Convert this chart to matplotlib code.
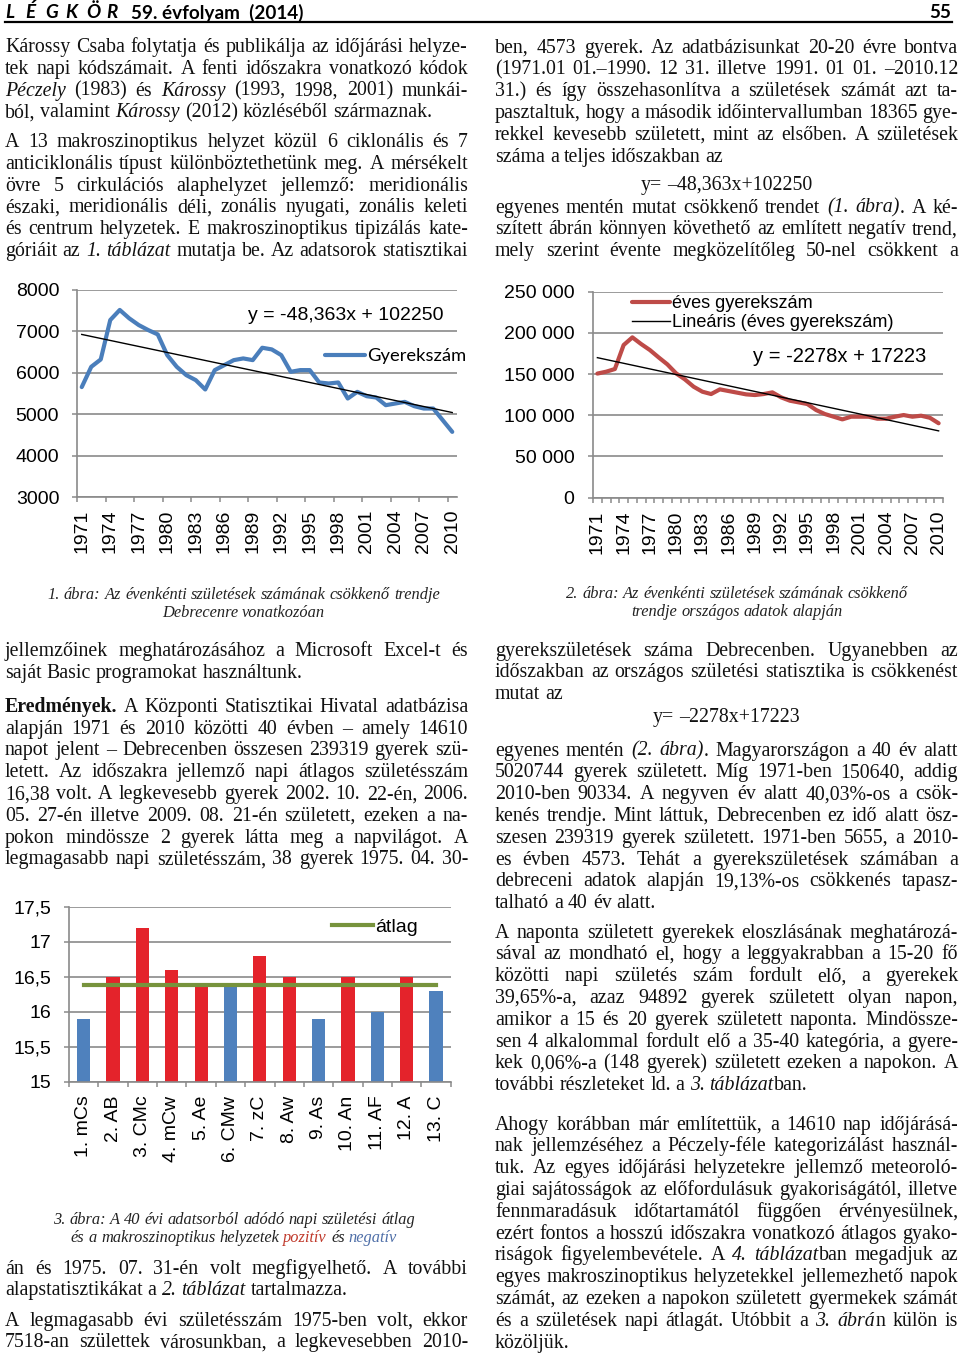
import numpy as np
import matplotlib
matplotlib.use('Agg')
import matplotlib.pyplot as plt
from matplotlib.font_manager import FontProperties
from matplotlib.transforms import IdentityTransform
from matplotlib.lines import Line2D
from matplotlib.ticker import FuncFormatter

# ---------------- data ----------------
years = list(range(1971, 2011))
debrecen_births = [5655, 6145, 6323, 7274, 7518, 7315, 7153, 7032, 6927, 6427,
                   6145, 5944, 5823, 5597, 6065, 6185, 6306, 6347, 6306, 6605,
                   6565, 6427, 6024, 6065, 6065, 5766, 5742, 5766, 5379, 5540,
                   5435, 5403, 5218, 5258, 5298, 5194, 5137, 5137, 4855, 4573]
trend1_coef = (-48.363, 102250)          # y = a*year + b
national_births = [150640, 152900, 156150, 185270, 194570, 186490, 179210, 170300, 161800, 150890,
                   143600, 134700, 128640, 125800, 131470, 129450, 127430, 125400, 124600, 125800,
                   127830, 121760, 117720, 115700, 113670, 106390, 101530, 98300, 95060, 98300,
                   98300, 98300, 95870, 95870, 98300, 100320, 98300, 99500, 97000, 90334]
trend2_coef = (-2278, 172230)            # y = a*index + b, index = 1..40
situations = ['1. mCs', '2. AB', '3. CMc', '4. mCw', '5. Ae', '6. CMw', '7. zC',
              '8. Aw', '9. As', '10. An', '11. AF', '12. A', '13. C']
daily_mean = [15.9, 16.5, 17.2, 16.6, 16.4, 16.37, 16.8, 16.5, 15.9, 16.5, 16.0, 16.5, 16.3]
overall_mean = 16.38
eq1_label = 'y = -48,363x + 102250'
eq2_label = 'y = -2278x + 17223'

# ---------------- page setup ----------------
W, H = 960, 1357
fig = plt.figure(figsize=(W / 100, H / 100), dpi=100)
fig.patch.set_facecolor('white')
renderer = fig.canvas.get_renderer()
IDT = IdentityTransform()
SERIF = 'Liberation Serif'
SANS = 'Liberation Sans'
plt.rcParams['font.family'] = SANS

RED_T = '#c0392b'
BLUE_T = '#4f6fa8'


def fprop(size, italic=False, bold=False, family=SERIF):
    return FontProperties(family=family, style='italic' if italic else 'normal',
                          weight='bold' if bold else 'normal', size=size)


def measure(s, prop):
    w, h, d = renderer.get_text_width_height_descent(s, prop, ismath=False)
    return w


def parse_words(markup, base_italic=False):
    st = {'i': base_italic, 'b': False, 'c': 'black'}
    words, cur, buf = [], [], []

    def flush():
        if buf:
            cur.append((''.join(buf), st['i'], st['b'], st['c']))
            buf.clear()

    for ch in markup:
        if ch == '*':
            flush(); st['i'] = not st['i']
        elif ch == '#':
            flush(); st['b'] = not st['b']
        elif ch == '^':
            flush(); st['c'] = RED_T if st['c'] == 'black' else 'black'
        elif ch == '~':
            flush(); st['c'] = BLUE_T if st['c'] == 'black' else 'black'
        elif ch == ' ':
            flush()
            if cur:
                words.append(list(cur)); cur.clear()
        else:
            buf.append(ch)
    flush()
    if cur:
        words.append(list(cur))
    return words


def draw_line(markup, x0, x1, yc, size, align='j', base_italic=False, color='#111111'):
    words = parse_words(markup, base_italic)
    widths = []
    for w in words:
        widths.append(sum(measure(t, fprop(size, i, b)) for t, i, b, c in w))
    space = measure('a a', fprop(size)) - measure('aa', fprop(size))
    total = sum(widths)
    n = len(words)
    if align == 'j' and n > 1:
        gap = (x1 - x0 - total) / (n - 1)
        x = x0
    elif align == 'c':
        gap = space
        x = (x0 + x1) / 2 - (total + gap * (n - 1)) / 2
    else:
        gap = space
        x = x0
    yb = yc + size * 1.389 * 0.23
    for w, wd in zip(words, widths):
        xx = x
        for t, i, b, c in w:
            p = fprop(size, i, b)
            fig.text(xx, H - yb, t, fontproperties=p, color=(color if c == 'black' else c),
                     transform=IDT, ha='left', va='baseline')
            xx += measure(t, p)
        x += wd + gap


body = 10 * 297 / measure('saját Basic programokat használtunk.', fprop(10))
capsz = 10 * 163 / measure('Debrecenre vonatkozóan', fprop(10, italic=True))
LS = 21.8


def draw_block(lines, x0, x1, y0, size=None):
    size = size or body
    for k, (txt, al) in enumerate(lines):
        draw_line(txt, x0, x1, y0 + k * LS, size, al)


LX0, LX1 = 5, 468
RX0, RX1 = 495, 958

# ---------------- header ----------------
hsz = 13.6
hp_bi = FontProperties(family='Lato', weight='bold', style='italic', size=hsz)
hp_b = FontProperties(family='Lato', weight='bold', size=hsz)
for k, ch in enumerate('LÉGKÖR'):
    fig.text(5 + k * 20.2, H - 18.5, ch, fontproperties=hp_bi, transform=IDT, va='baseline', ha='left')
fig.text(131, H - 18.5, '59. évfolyam  (2014)', fontproperties=hp_b, transform=IDT, va='baseline', ha='left')
fig.text(951, H - 18.5, '55', fontproperties=hp_b, transform=IDT, va='baseline', ha='right')
fig.add_artist(Line2D([5, 952], [H - 21.5, H - 21.5], color='black', lw=1.6, transform=IDT))

# ---------------- left column text ----------------
draw_block([
    ('Károssy Csaba folytatja és publikálja az időjárási helyze-', 'j'),
    ('tek napi kódszámait. A fenti időszakra vonatkozó kódok', 'j'),
    ('*Péczely* (1983) és *Károssy* (1993, 1998, 2001) munkái-', 'j'),
    ('ból, valamint *Károssy* (2012) közléséből származnak.', 'l'),
], LX0, LX1, 47.5)
draw_block([
    ('A 13 makroszinoptikus helyzet közül 6 ciklonális és 7', 'j'),
    ('anticiklonális típust különböztethetünk meg. A mérsékelt', 'j'),
    ('övre 5 cirkulációs alaphelyzet jellemző: meridionális', 'j'),
    ('északi, meridionális déli, zonális nyugati, zonális keleti', 'j'),
    ('és centrum helyzetek. E makroszinoptikus tipizálás kate-', 'j'),
    ('góriáit az *1. táblázat* mutatja be. Az adatsorok statisztikai', 'j'),
], LX0, LX1, 142.5)
draw_block([
    ('jellemzőinek meghatározásához a Microsoft Excel-t és', 'j'),
    ('saját Basic programokat használtunk.', 'l'),
], LX0, LX1, 651.5)
draw_block([
    ('#Eredmények.# A Központi Statisztikai Hivatal adatbázisa', 'j'),
    ('alapján 1971 és 2010 közötti 40 évben – amely 14610', 'j'),
    ('napot jelent – Debrecenben összesen 239319 gyerek szü-', 'j'),
    ('letett. Az időszakra jellemző napi átlagos születésszám', 'j'),
    ('16,38 volt. A legkevesebb gyerek 2002. 10. 22-én, 2006.', 'j'),
    ('05. 27-én illetve 2009. 08. 21-én született, ezeken a na-', 'j'),
    ('pokon mindössze 2 gyerek látta meg a napvilágot. A', 'j'),
    ('legmagasabb napi születésszám, 38 gyerek 1975. 04. 30-', 'j'),
], LX0, LX1, 707.3)
draw_block([
    ('án és 1975. 07. 31-én volt megfigyelhető. A további', 'j'),
    ('alapstatisztikákat a *2. táblázat* tartalmazza.', 'l'),
], LX0, LX1, 1269)
draw_block([
    ('A legmagasabb évi születésszám 1975-ben volt, ekkor', 'j'),
    ('7518-an születtek városunkban, a legkevesebben 2010-', 'j'),
], LX0, LX1, 1321)

# ---------------- right column text ----------------
draw_block([
    ('ben, 4573 gyerek. Az adatbázisunkat 20-20 évre bontva', 'j'),
    ('(1971.01 01.–1990. 12 31. illetve 1991. 01 01. –2010.12', 'j'),
    ('31.) és így összehasonlítva a születések számát azt ta-', 'j'),
    ('pasztaltuk, hogy a második időintervallumban 18365 gye-', 'j'),
    ('rekkel kevesebb született, mint az elsőben. A születések', 'j'),
    ('száma a teljes időszakban az', 'l'),
], RX0, RX1, 48)
draw_line('y= –48,363x+102250', RX0, RX1, 185, body, 'c')
draw_block([
    ('egyenes mentén mutat csökkenő trendet *(1. ábra)*. A ké-', 'j'),
    ('szített ábrán könnyen követhető az említett negatív trend,', 'j'),
    ('mely szerint évente megközelítőleg 50-nel csökkent a', 'j'),
], RX0, RX1, 208)
draw_block([
    ('gyerekszületések száma Debrecenben. Ugyanebben az', 'j'),
    ('időszakban az országos születési statisztika is csökkenést', 'j'),
    ('mutat az', 'l'),
], RX0, RX1, 651)
draw_line('y= –2278x+17223', RX0, RX1, 717.5, body, 'c')
draw_block([
    ('egyenes mentén *(2. ábra)*. Magyarországon a 40 év alatt', 'j'),
    ('5020744 gyerek született. Míg 1971-ben 150640, addig', 'j'),
    ('2010-ben 90334. A negyven év alatt 40,03%-os a csök-', 'j'),
    ('kenés trendje. Mint láttuk, Debrecenben ez idő alatt ösz-', 'j'),
    ('szesen 239319 gyerek született. 1971-ben 5655, a 2010-', 'j'),
    ('es évben 4573. Tehát a gyerekszületések számában a', 'j'),
    ('debreceni adatok alapján 19,13%-os csökkenés tapasz-', 'j'),
    ('talható a 40 év alatt.', 'l'),
], RX0, RX1, 751)
draw_block([
    ('A naponta született gyerekek eloszlásának meghatározá-', 'j'),
    ('sával az mondható el, hogy a leggyakrabban a 15-20 fő', 'j'),
    ('közötti napi születés szám fordult elő, a gyerekek', 'j'),
    ('39,65%-a, azaz 94892 gyerek született olyan napon,', 'j'),
    ('amikor a 15 és 20 gyerek született naponta. Mindössze-', 'j'),
    ('sen 4 alkalommal fordult elő a 35-40 kategória, a gyere-', 'j'),
    ('kek 0,06%-a (148 gyerek) született ezeken a napokon. A', 'j'),
    ('további részleteket ld. a *3. táblázat*ban.', 'l'),
], RX0, RX1, 933)
draw_block([
    ('Ahogy korábban már említettük, a 14610 nap időjárásá-', 'j'),
    ('nak jellemzéséhez a Péczely-féle kategorizálást használ-', 'j'),
    ('tuk. Az egyes időjárási helyzetekre jellemző meteoroló-', 'j'),
    ('giai sajátosságok az előfordulásuk gyakoriságától, illetve', 'j'),
    ('fennmaradásuk időtartamától függően érvényesülnek,', 'j'),
    ('ezért fontos a hosszú időszakra vonatkozó átlagos gyako-', 'j'),
    ('riságok figyelembevétele. A *4. táblázat*ban megadjuk az', 'j'),
    ('egyes makroszinoptikus helyzetekkel jellemezhető napok', 'j'),
    ('számát, az ezeken a napokon született gyermekek számát', 'j'),
    ('és a születések napi átlagát. Utóbbit a *3. ábrá*n külön is', 'j'),
    ('közöljük.', 'l'),
], RX0, RX1, 1125)

# ---------------- captions ----------------
def caption(lines, xc, y0):
    for k, t in enumerate(lines):
        draw_line(t, xc - 300, xc + 300, y0 + k * 18.5, capsz, 'c', base_italic=True, color='#222222')

caption(['1. ábra: Az évenkénti születések számának csökkenő trendje',
         'Debrecenre vonatkozóan'], 243.5, 595)
caption(['2. ábra: Az évenkénti születések számának csökkenő',
         'trendje országos adatok alapján'], 737, 594)
caption(['3. ábra: A 40 évi adatsorból adódó napi születési átlag',
         'és a makroszinoptikus helyzetek ^pozitív^ és ~negatív~'], 234, 1220)

# ---------------- charts ----------------
GRID = '#8a8a8a'
TFS = 14
BLUE = '#4a7ebb'
REDL = '#be4b48'
BAR_RED = '#e4232b'
BAR_BLUE = '#4f81bd'
GREEN = '#77933c'


def px_axes(left, top, right, bottom):
    return fig.add_axes([left / W, 1 - bottom / H, (right - left) / W, (bottom - top) / H])


def style_axes(ax, n, minor_step, ypad):
    ax.set_facecolor('none')
    for s in ['top', 'right']:
        ax.spines[s].set_visible(False)
    for s in ['left', 'bottom']:
        ax.spines[s].set_color(GRID)
        ax.spines[s].set_linewidth(1.2)
    ax.grid(axis='y', color=GRID, lw=1.2)
    ax.set_axisbelow(True)
    ax.set_xlim(-0.5, n - 0.5)
    ax.set_xticks(np.arange(-0.5, n - 0.5 + 1e-9, minor_step), minor=True)
    ax.tick_params(axis='x', which='major', length=0, pad=9, labelsize=TFS, labelcolor='black')
    ax.tick_params(axis='x', which='minor', length=3.8, width=1.1, color=GRID, direction='out')
    ax.tick_params(axis='y', length=3.8, width=1.1, color=GRID, pad=ypad, labelsize=TFS, labelcolor='black')


# Chart 1
x = np.arange(len(years))
ax1 = px_axes(77, 290, 457, 497)
style_axes(ax1, len(years), 3, 9)
ax1.plot(x, debrecen_births, color=BLUE, lw=3.0, solid_joinstyle='round', solid_capstyle='round',
         label='Gyerekszám', zorder=3)
ax1.plot(x, trend1_coef[0] * np.array(years) + trend1_coef[1], color='black', lw=1.0, zorder=4)
ax1.set_ylim(3000, 8000)
ax1.set_yticks(np.arange(3000, 8001, 1000))
ax1.set_xticks(x[::3])
ax1.set_xticklabels([str(y) for y in years[::3]], rotation=90)
h, l = ax1.get_legend_handles_labels()
ax1.legend(h, l, loc='center left', bbox_to_anchor=(325 / W, 1 - 356 / H), bbox_transform=fig.transFigure,
           frameon=False, borderpad=0, borderaxespad=0, handlelength=2.2, handletextpad=0.1,
           prop=FontProperties(family='Lato', size=13.2))
fig.text(248, H - 315, eq1_label, transform=IDT, fontsize=TFS, family=SANS, va='center', ha='left')

# Chart 2
ax2 = px_axes(593, 291.7, 943, 497.7)
style_axes(ax2, len(years), 1, 9.5)
ax2.plot(x, national_births, color=REDL, lw=3.0, solid_joinstyle='round', solid_capstyle='round',
         label='éves gyerekszám', zorder=3)
ax2.plot(x, trend2_coef[0] * (x + 1) + trend2_coef[1], color='black', lw=1.0,
         label='Lineáris (éves gyerekszám)', zorder=4)
ax2.set_ylim(0, 250000)
ax2.set_yticks(np.arange(0, 250001, 50000))
ax2.yaxis.set_major_formatter(FuncFormatter(lambda v, p: f'{int(v):,}'.replace(',', ' ')))
ax2.set_xticks(x[::3])
ax2.set_xticklabels([str(y) for y in years[::3]], rotation=90)
h, l = ax2.get_legend_handles_labels()
ax2.legend(h, l, loc='center left', bbox_to_anchor=(632 / W, 1 - 313.3 / H), bbox_transform=fig.transFigure,
           frameon=False, borderpad=0, borderaxespad=0, handlelength=2.1, handletextpad=0.12,
           labelspacing=0.12, fontsize=13.1)
fig.text(753, H - 356, eq2_label, transform=IDT, fontsize=14.5, family=SANS, va='center', ha='left')

# Chart 3
xc = np.arange(len(situations))
ax3 = px_axes(69, 906.7, 450.7, 1081.7)
style_axes(ax3, len(situations), 1, 9)
bar_colors = [BAR_RED if v > overall_mean else BAR_BLUE for v in daily_mean]
ax3.bar(xc, daily_mean, width=0.45, color=bar_colors, zorder=2)
ax3.plot(xc, [overall_mean] * len(situations), color=GREEN, lw=3.0, label='átlag', zorder=3)
ax3.set_ylim(15, 17.5)
ax3.set_yticks(np.arange(15, 17.51, 0.5))
ax3.yaxis.set_major_formatter(FuncFormatter(lambda v, p: (f'{v:g}').replace('.', ',')))
ax3.set_xticks(xc)
ax3.set_xticklabels(situations, rotation=90)
ax3.tick_params(axis='x', which='major', pad=10)
h, l = ax3.get_legend_handles_labels()
ax3.legend(h, l, loc='center left', bbox_to_anchor=(332 / W, 1 - 927.3 / H), bbox_transform=fig.transFigure,
           frameon=False, borderpad=0, borderaxespad=0, handlelength=2.1, handletextpad=0.12, fontsize=TFS)

fig.savefig('out.png', dpi=100, facecolor='white')
